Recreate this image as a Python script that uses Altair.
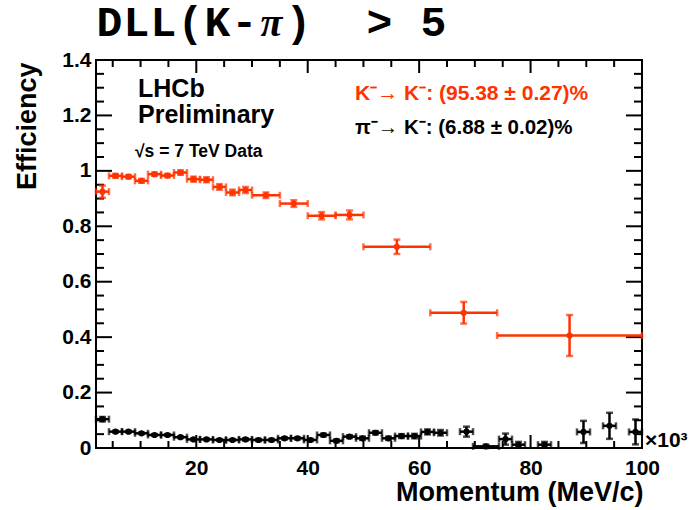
import altair as alt
import pandas as pd

# ---- K -> K efficiency (red), variable momentum bins in GeV/c ----
red_edges = [2.0, 4.33, 6.67, 9.0, 11.33, 13.67, 16.0, 18.33, 20.67, 23.0, 25.33,
             27.67, 30.0, 35.0, 40.0, 45.0, 50.0, 62.0, 74.0, 100.0]
red_eff = [0.925, 0.982, 0.979, 0.964, 0.988, 0.983, 0.994, 0.970, 0.968, 0.942,
           0.922, 0.931, 0.912, 0.882, 0.838, 0.841, 0.726, 0.488, 0.406]
red_err = [0.022, 0.007, 0.006, 0.007, 0.006, 0.006, 0.008, 0.009, 0.009, 0.010,
           0.010, 0.011, 0.010, 0.012, 0.013, 0.016, 0.026, 0.039, 0.074]

# ---- pi -> K mis-id rate (black) ----
black_lo = [2.0, 4.33, 6.67, 9.0, 11.33, 13.67, 16.0, 18.33, 20.67, 23.0, 25.33,
            27.67, 30.0, 32.33, 34.67, 37.0, 39.33, 41.67, 44.0, 46.33, 48.67,
            51.0, 53.33, 55.67, 58.0, 60.33, 62.67, 67.33, 69.67, 74.33, 76.67,
            81.33, 88.33, 93.0, 97.67]
black_hi = [4.33, 6.67, 9.0, 11.33, 13.67, 16.0, 18.33, 20.67, 23.0, 25.33, 27.67,
            30.0, 32.33, 34.67, 37.0, 39.33, 41.67, 44.0, 46.33, 48.67, 51.0,
            53.33, 55.67, 58.0, 60.33, 62.67, 65.0, 69.67, 74.33, 76.67, 79.0,
            83.67, 90.67, 95.33, 100.0]
black_eff = [0.104, 0.059, 0.059, 0.053, 0.047, 0.047, 0.039, 0.031, 0.031, 0.029,
             0.029, 0.031, 0.029, 0.029, 0.035, 0.035, 0.029, 0.047, 0.026, 0.041,
             0.035, 0.055, 0.035, 0.043, 0.043, 0.058, 0.055, 0.059, 0.006, 0.032,
             0.012, 0.012, 0.058, 0.080, 0.058]
black_err = [0.008, 0.003, 0.003, 0.003, 0.003, 0.003, 0.003, 0.003, 0.003, 0.003,
             0.003, 0.004, 0.004, 0.004, 0.004, 0.004, 0.004, 0.005, 0.005, 0.005,
             0.006, 0.006, 0.006, 0.007, 0.008, 0.009, 0.010, 0.018, 0.006, 0.020,
             0.010, 0.010, 0.040, 0.047, 0.045]

# ---- axis ticks ----
y_major = [0.0, 0.2, 0.4, 0.6, 0.8, 1.0, 1.2, 1.4]
y_minor = [round(0.05 * i, 2) for i in range(29) if i % 4 != 0]
x_major = [20, 40, 60, 80, 100]
x_minor = [5 * i for i in range(1, 20) if i % 4 != 0]

RED = "#ff3300"
BLACK = "#000000"
W, H = 546, 388
SANS = "Liberation Sans"

xs = alt.Scale(domain=[2, 100], nice=False, zero=False)
ys = alt.Scale(domain=[0, 1.4], nice=False, zero=False)

x_axis = alt.Axis(values=x_major, ticks=False, domain=False, grid=False,
                  labelFont=SANS, labelFontWeight="bold", labelFontSize=21,
                  labelColor="black", labelPadding=9, labelFlush=False,
                  titleFont=SANS, titleFontWeight="bold", titleFontSize=27,
                  titleColor="black", titleX=W + 1, titleY=52, titleAlign="right",
                  titleBaseline="alphabetic", titleAnchor="end")
y_axis = alt.Axis(values=y_major, format=".1~f", ticks=False, domain=False, grid=False,
                  labelFont=SANS, labelFontWeight="bold", labelFontSize=21,
                  labelColor="black", labelPadding=5, labelFlush=False,
                  titleFont=SANS, titleFontWeight="bold", titleFontSize=27,
                  titleColor="black", titleX=-69, titleY=2, titleAlign="right",
                  titleBaseline="middle", titleAngle=-90, titleAnchor="end")

X_TITLE = "Momentum (MeV/c)"
Y_TITLE = "Efficiency"


def X(field):
    return alt.X(field, type="quantitative", scale=xs, axis=x_axis, title=X_TITLE)


def Y(field):
    return alt.Y(field, type="quantitative", scale=ys, axis=y_axis, title=Y_TITLE)


def series(lo, hi, eff, err, color):
    df = pd.DataFrame({"lo": lo, "hi": hi, "eff": eff, "err": err})
    df["ctr"] = (df["lo"] + df["hi"]) / 2
    df["ylo"] = (df["eff"] - df["err"]).clip(lower=0)
    df["yhi"] = df["eff"] + df["err"]
    base = alt.Chart(df)
    hbar = base.mark_rule(color=color, strokeWidth=2.5).encode(
        x=X("lo"), x2="hi", y=Y("eff"))
    vbar = base.mark_rule(color=color, strokeWidth=2.5).encode(
        x=X("ctr"), y=Y("ylo"), y2="yhi")
    cap_l = base.mark_tick(color=color, orient="vertical", size=7, thickness=2.5).encode(
        x=X("lo"), y=Y("eff"))
    cap_r = base.mark_tick(color=color, orient="vertical", size=7, thickness=2.5).encode(
        x=X("hi"), y=Y("eff"))
    cap_b = base.mark_tick(color=color, orient="horizontal", size=7, thickness=2.5).encode(
        x=X("ctr"), y=Y("ylo"))
    cap_t = base.mark_tick(color=color, orient="horizontal", size=7, thickness=2.5).encode(
        x=X("ctr"), y=Y("yhi"))
    dots = base.mark_point(color=color, filled=True, size=38, opacity=1).encode(
        x=X("ctr"), y=Y("eff"))
    return [hbar, vbar, cap_l, cap_r, cap_b, cap_t, dots]


def ytick_layers(vals, length):
    d = alt.Chart(pd.DataFrame({"v": vals}))
    left = d.mark_rule(color="black", strokeWidth=2).encode(
        y=Y("v"), x=alt.value(0), x2=alt.value(length))
    right = d.mark_rule(color="black", strokeWidth=2).encode(
        y=Y("v"), x=alt.value(W - length), x2=alt.value(W))
    return [left, right]


def xtick_layers(vals, length):
    d = alt.Chart(pd.DataFrame({"v": vals}))
    bottom = d.mark_rule(color="black", strokeWidth=2).encode(
        x=X("v"), y=alt.value(H), y2=alt.value(H - length))
    top = d.mark_rule(color="black", strokeWidth=2).encode(
        x=X("v"), y=alt.value(0), y2=alt.value(length))
    return [bottom, top]


def label(text, x, y, size, color="black", font=SANS, style="normal", align="left"):
    return alt.Chart(pd.DataFrame({"t": [text]})).mark_text(
        font=font, fontSize=size, fontWeight="bold", fontStyle=style, color=color,
        align=align, baseline="alphabetic").encode(
        text="t:N", x=alt.value(x), y=alt.value(y))


# Title drawn one character per cell on a fixed monospace pitch
title_chars = list("DLL(K-π)  > 5")
pitch = 27
title_layers = []
for i, ch in enumerate(title_chars):
    if ch == " ":
        continue
    cx = (i + 0.5) * pitch
    if ch == "π":
        title_layers.append(label(ch, cx, -24, 40,
                                  font="Liberation Serif", style="italic", align="center"))
    else:
        title_layers.append(label(ch, cx, -24, 43,
                                  font="Liberation Mono", align="center"))

texts = [
    label("LHCb", 42, 37, 25),
    label("Preliminary", 42, 63, 25),
    label("√s = 7 TeV Data", 39, 97, 17.5),
    label("K⁻→ K⁻: (95.38 ± 0.27)%", 259, 40, 21, color=RED),
    label("π⁻→ K⁻: (6.88 ± 0.02)%", 259, 74, 20.5),
    label("×10³", 549, 387, 21),
]

layers = (ytick_layers(y_major, 16) + ytick_layers(y_minor, 8)
          + xtick_layers(x_major, 13) + xtick_layers(x_minor, 7)
          + series(black_lo, black_hi, black_eff, black_err, BLACK)
          + series(red_edges[:-1], red_edges[1:], red_eff, red_err, RED)
          + texts + title_layers)

chart = alt.layer(*layers).properties(
    width=W, height=H,
    autosize=alt.AutoSizeParams(type="none"),
    padding={"left": 96, "top": 60, "right": 52, "bottom": 62},
    background="white",
).configure_view(stroke="black", strokeWidth=2)

chart.save("out.html", embed_options={"renderer": "svg", "actions": False})
